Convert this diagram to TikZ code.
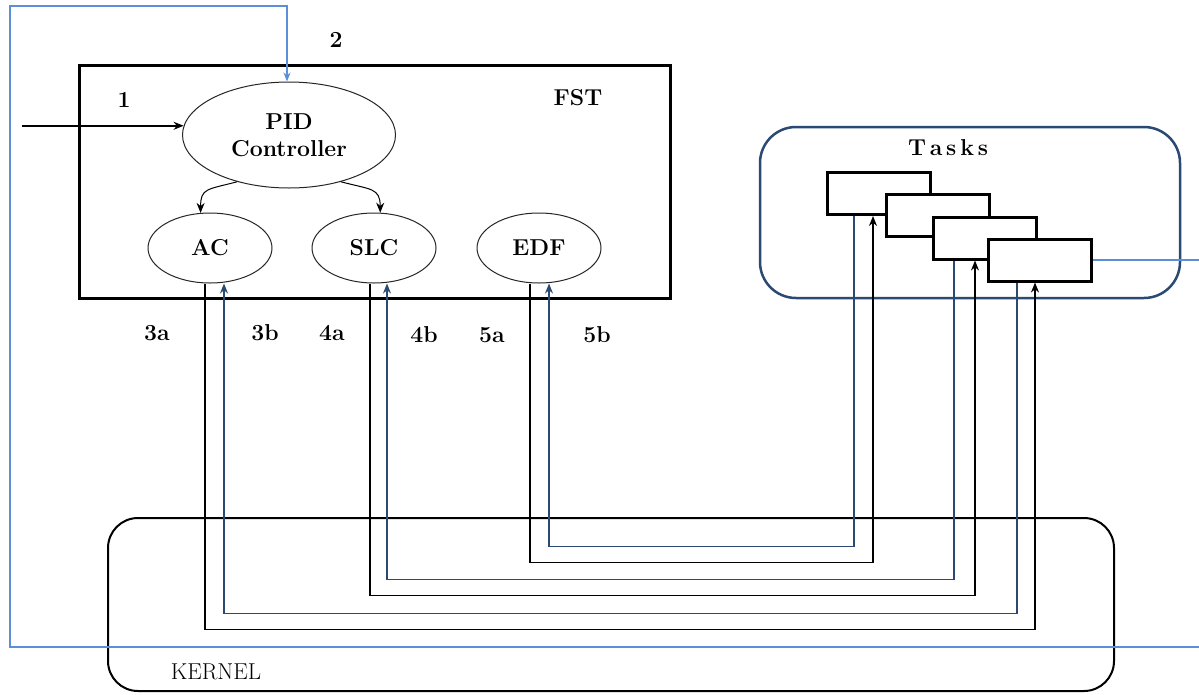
\documentclass[tikz,border=0pt]{standalone}
\usetikzlibrary{arrows.meta,shapes.geometric}
\definecolor{navy}{HTML}{2B4A73}
\definecolor{fbblue}{HTML}{5B8FD8}
\begin{document}
\begin{tikzpicture}[x=1pt,y=-1pt,
  lbl/.style={font=\fontsize{23}{27}\selectfont\bfseries},
  blob/.style={ellipse, draw=black!85, line width=1pt, fill=white, inner sep=0pt,
               minimum width=124pt, minimum height=70pt, lbl},
  taskbox/.style={draw, line width=3pt, fill=white, inner sep=0pt,
                  minimum width=103pt, minimum height=42pt},
  wire/.style={line width=1.3pt},
  fb/.style={fbblue, line width=1.5pt},
  tip/.style={-{Stealth[length=10pt,width=8pt]}}]
  \useasboundingbox (0,0) rectangle (1199,694);
  % --- the three frames: FST, the task pool and the kernel
  \draw[line width=3pt] (79,65) rectangle (670,298);
  \node[lbl] (fst) at (578,98) {FST};
  \draw[navy, line width=2.5pt, rounded corners=36pt] (760,127) rectangle (1180,298);
  \node[lbl] (tasks) at (948,148) {T\,a\,s\,k\,s};
  \draw[line width=2pt, rounded corners=30pt] (108,518) rectangle (1114,691);
  \node[font=\fontsize{23}{27}\selectfont] (kernel) at (216,672) {KERNEL};
  % --- controller and the three schedulers
  \node[blob, minimum width=213pt, minimum height=106pt, align=center] (pid) at (289,135) {PID\\Controller};
  \node[blob] (ac) at (210,248) {AC};
  \node[blob] (slc) at (374,248) {SLC};
  \node[blob] (edf) at (539,248) {EDF};
  \draw[line width=1pt, tip] (pid.222) .. controls +(-30,8) and +(0,-25) .. (ac.105);
  \draw[line width=1pt, tip] (pid.318) .. controls +(30,8) and +(0,-25) .. (slc.80);
  % --- stacked tasks, back to front
  \foreach \n/\x/\y in {1/879/193.5, 2/938/215.5, 3/985/238, 4/1040/260}
    \node[taskbox] (t\n) at (\x,\y) {};
  % --- input 1 and feedback 2
  \coordinate (in) at (22,0);
  \draw[line width=2pt, tip] (in |- pid.175) -- (pid.175);
  \node[lbl] (n1) at (124,100) {1};
  \node[lbl] (n2) at (336,40) {2};
  \coordinate (fbA) at (1199,260);
  \coordinate (fbB) at (1199,647);
  \coordinate (fbD) at (10,6);
  \draw[fb] (t4.east) -- (fbA);
  \draw[fb, -{Stealth[length=9pt,width=7pt]}] (fbB) -| (fbD) -| ([xshift=-2pt]pid.north);
  % --- scheduler <-> task links through the kernel
  \draw[wire, tip] ([xshift=-5pt]ac.south) -- ++(0,346) -| ([xshift=-5pt]t4.south);
  \draw[wire, navy, tip] ([xshift=-23pt]t4.south) -- ++(0,331) -| ([xshift=14pt]ac.south);
  \draw[wire, tip] ([xshift=-4pt]slc.south) -- ++(0,312) -| ([xshift=-10pt]t3.south);
  \draw[wire, navy, tip] ([xshift=-31pt]t3.south) -- ++(0,319) -| ([xshift=13pt]slc.south);
  \draw[wire, tip] ([xshift=-9pt]edf.south) -- ++(0,279) -| ([xshift=-6pt]t1.south);
  \draw[wire, navy, tip] ([xshift=-25pt]t1.south) -- ++(0,330.5) -| ([xshift=10pt]edf.south);
  \node[lbl] (l3a) at (157,333) {3a};
  \node[lbl] (l3b) at (265,333) {3b};
  \node[lbl] (l4a) at (332,333) {4a};
  \node[lbl] (l4b) at (424,335) {4b};
  \node[lbl] (l5a) at (492,335) {5a};
  \node[lbl] (l5b) at (597,335) {5b};
\end{tikzpicture}
\end{document}
